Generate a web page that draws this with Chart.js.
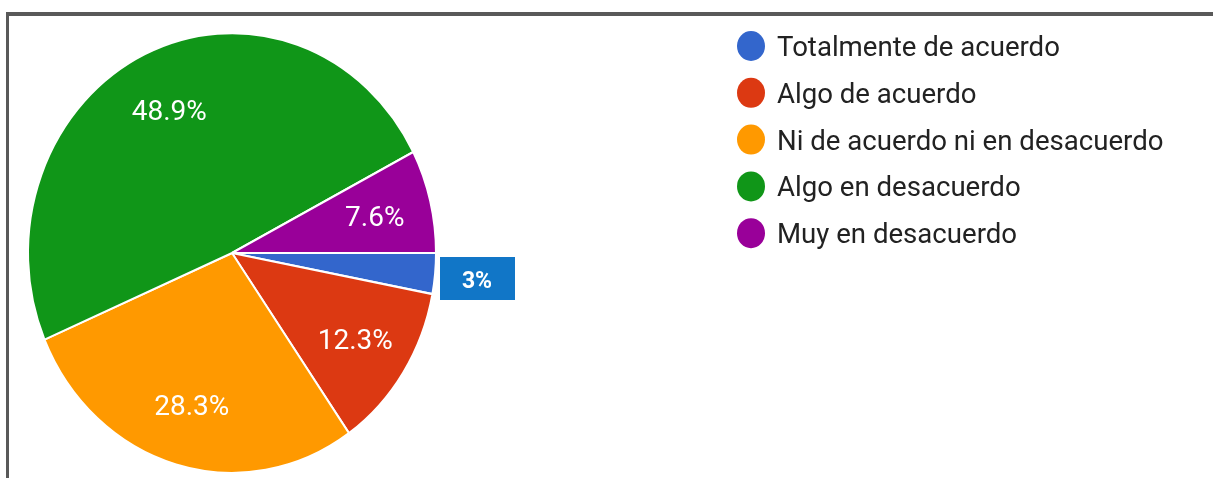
<!DOCTYPE html>
<html>
<head>
<meta charset="utf-8">
<script src="https://cdn.jsdelivr.net/npm/chart.js@4"></script>
<style>
  html, body { margin: 0; padding: 0; background: #fff; }
  #wrap { position: relative; width: 1213px; height: 478px; overflow: hidden; }
  #frame { position: absolute; left: 6px; top: 12px; right: -10px; bottom: -10px;
           border-top: 4px solid #595959; border-left: 3px solid #595959; }
  canvas { position: absolute; left: 0; top: 0; }
</style>
</head>
<body>
<div id="wrap">
  <div id="frame"></div>
  <canvas id="pie" width="1213" height="478"></canvas>
</div>
<script>
// datos del gráfico
const categories = ['Totalmente de acuerdo', 'Algo de acuerdo', 'Ni de acuerdo ni en desacuerdo', 'Algo en desacuerdo', 'Muy en desacuerdo'];
const percentValues = [3, 12.3, 28.3, 48.9, 7.6];
const percentLabels = ['3%', '12.3%', '28.3%', '48.9%', '7.6%'];
const sliceColors = ['#3366cc', '#dc3912', '#ff9900', '#109618', '#990099'];

// la imagen original está un poco estirada en vertical
const yStretch = 221 / 205;

function stretchAround(chart, ctx) {
    const arc = chart.getDatasetMeta(0).data[0];
    ctx.translate(arc.x, arc.y);
    ctx.scale(1, yStretch);
    ctx.translate(-arc.x, -arc.y);
}

const stretchPlugin = {
    id: 'stretch',
    beforeDatasetsDraw(chart) {
        chart.ctx.save();
        stretchAround(chart, chart.ctx);
    },
    afterDatasetsDraw(chart) {
        chart.ctx.restore();
    }
};

// etiquetas de porcentaje dentro de las porciones
const sliceLabelPlugin = {
    id: 'sliceLabels',
    afterDatasetsDraw(chart) {
        const ctx = chart.ctx;
        const arcs = chart.getDatasetMeta(0).data;
        ctx.save();
        arcs.forEach((arc, i) => {
            const mid = (arc.startAngle + arc.endAngle) / 2;
            if (i === 0) {
                // porción pequeña: etiqueta en caja fuera del pastel
                const bx = arc.x + arc.outerRadius + 4;
                const by = arc.y + 4;
                ctx.fillStyle = '#1176c7';
                ctx.fillRect(bx, by, 75, 43);
                ctx.fillStyle = '#fff';
                ctx.font = 'bold 23px Roboto, Arial, sans-serif';
                ctx.textAlign = 'center';
                ctx.textBaseline = 'middle';
                ctx.fillText(percentLabels[i], bx + 37, by + 25);
                return;
            }
            const r = arc.outerRadius * 0.72;
            const x = arc.x + Math.cos(mid) * r;
            const y = arc.y + Math.sin(mid) * r * yStretch + 3;
            ctx.fillStyle = '#fff';
            ctx.font = '28px Roboto, Arial, sans-serif';
            ctx.textAlign = 'center';
            ctx.textBaseline = 'middle';
            ctx.fillText(percentLabels[i], x, y);
        });
        ctx.restore();
    }
};

// leyenda a la derecha
const legendPlugin = {
    id: 'sideLegend',
    afterDraw(chart) {
        const ctx = chart.ctx;
        ctx.save();
        chart.data.labels.forEach((label, i) => {
            const cy = 46 + i * 46.8;
            ctx.fillStyle = sliceColors[i];
            ctx.beginPath();
            ctx.ellipse(751, cy, 14, 15, 0, 0, Math.PI * 2);
            ctx.fill();
            ctx.fillStyle = '#222';
            ctx.font = '27.6px Roboto, Arial, sans-serif';
            ctx.textAlign = 'left';
            ctx.textBaseline = 'alphabetic';
            ctx.fillText(label, 777, cy + 10);
        });
        ctx.restore();
    }
};

new Chart(document.getElementById('pie'), {
    type: 'pie',
    data: {
        labels: categories,
        datasets: [{
            data: percentValues,
            backgroundColor: sliceColors,
            borderColor: '#fff',
            borderWidth: 2,
            hoverOffset: 0
        }]
    },
    options: {
        responsive: false,
        animation: false,
        rotation: 90,
        layout: { padding: { left: 27, right: 776, top: 48, bottom: 20 } },
        plugins: {
            legend: { display: false },
            tooltip: { enabled: false }
        }
    },
    plugins: [stretchPlugin, sliceLabelPlugin, legendPlugin]
});
</script>
</body>
</html>
